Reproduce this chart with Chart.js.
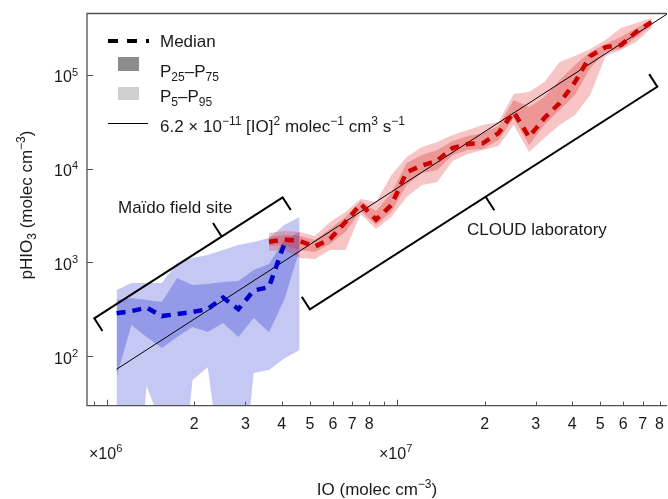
<!DOCTYPE html>
<html>
<head>
<meta charset="utf-8">
<script src="https://cdn.jsdelivr.net/npm/chart.js@4.4.0/dist/chart.umd.min.js"></script>
<style>
  html, body { margin: 0; padding: 0; background: #fff; }
  #wrap { width: 668px; height: 499px; }
</style>
</head>
<body>
<div id="wrap"><canvas id="chart" width="668" height="499"></canvas></div>
<script>
// Maido field site, IO bins (molec cm-3) and pHIO3 percentiles
const maidoIO = [1.08e6, 1.215e6, 1.37e6, 1.546e6, 1.746e6, 1.971e6, 2.225e6, 2.512e6, 2.836e6, 3.202e6, 3.615e6, 4.08e6, 4.61e6];
const maidoMedian = [286, 302, 329, 267, 281, 295, 317, 421, 317, 500, 545, 1567, null];
const maidoP75 = [396, 416, 396, 377, 680, 572, 587, 617, 631, 828, 959, 1730, 2104];
const maidoP25 = [60, 214, 160, 122, 160, 204, 180, 225, 160, 254, 180, 396, 1352];
const maidoP95 = [506, 601, 601, 601, 983, 1112, 1197, 1353, 1530, 1647, 1816, 2500, 3044];
const maidoP5 = [10, 0.7, 48, 18, 1.3, 55, 76, 4.5, 1.5, 66, 71, 94, 116];

// CLOUD laboratory
const cloudIO = [3.615e6, 4.08e6, 4.61e6, 5.2e6, 5.87e6, 6.63e6, 7.48e6, 8.45e6, 9.54e6, 1.077e7, 1.216e7, 1.373e7, 1.55e7,
  1.75e7, 1.976e7, 2.231e7, 2.518e7, 2.843e7, 3.21e7, 3.624e7, 4.092e7, 4.62e7, 5.215e7, 5.888e7, 6.648e7, 7.505e7];
const cloudMedian = [1659, 1751, 1688, 1474, 1773, 2692, 4188, 2862, 4088, 9196, 10790, 12200, 16590,
  18300, 18760, 23990, 40180, 21730, 34670, 50120, 83950, 159100, 198500, 208400, 286900, 366800];
const cloudP95 = [2054, 2158, 2105, 1908, 2692, 3443, 4737, 4400, 8500, 13300, 17000, 19220, 22830,
  25820, 29190, 31420, 62520, 65680, 83950, 137300, 159100, 188800, 235700, 316600, 357900, 404600];
const cloudP75 = [1862, 1956, 1908, 1730, 2266, 3044, 4510, 3528, 5490, 11470, 13970, 15790, 19700,
  22280, 23990, 28490, 53950, 45380, 58070, 88220, 127500, 175400, 213600, 253600, 316600, 385300];
const cloudP25 = [1493, 1530, 1352, 1288, 1568, 2105, 3528, 2500, 3443, 6683, 8973, 9661, 13970,
  15790, 16190, 20200, 34670, 17860, 29190, 42210, 60990, 118500, 175400, 188800, 253600, 332600];
const cloudP5 = [1320, 1352, 1112, 1085, 1352, 1352, 3273, 2266, 3044, 4976, 6683, 7190, 12050,
  14310, 15790, 17420, 29190, 15040, 21210, 29190, 37330, 60990, 159100, 184300, 224400, 316600];

// 6.2e-11 [IO]^2 line, end points
const fitIO = [1.08e6, 8.49e7];
const fitP = [72.3, 446900];

// axes
const xMin = 8.54e5, xMax = 8.49e7, yMin = 29.5, yMax = 4.53e5;
const xTickValues = [9e5, 1e6, 2e6, 3e6, 4e6, 5e6, 6e6, 7e6, 8e6, 9e6, 1e7, 2e7, 3e7, 4e7, 5e7, 6e7, 7e7, 8e7];
const xMajorValues = [1e6, 1e7];
const xLabelValues = [2e6, 3e6, 4e6, 5e6, 6e6, 7e6, 8e6, 2e7, 3e7, 4e7, 5e7, 6e7, 7e7, 8e7];
const xLabelText = ['2', '3', '4', '5', '6', '7', '8', '2', '3', '4', '5', '6', '7', '8'];
const yTickValues = [1e2, 1e3, 1e4, 1e5];
const yTickExp = ['2', '3', '4', '5'];

// brackets (data coordinates)
const maidoBracket = { from: [9.05e5, 252.6], to: [4.03e6, 4940], mid: 0.676 };
const cloudBracket = { from: [5.0e6, 315], to: [7.86e7, 74800], mid: 0.506 };

const FONT = '"Liberation Sans", Arial, Helvetica, sans-serif';
const INK = '#1a1a1a';

function pts(xs, ys) { return xs.map((v, i) => ({ x: v, y: ys[i] })); }

function rich(ctx, parts, x, y, size, align) {
  const small = Math.round(size * 0.68);
  let w = 0;
  parts.forEach(p => {
    ctx.font = (p[1] ? small : size) + 'px ' + FONT;
    w += ctx.measureText(p[0]).width;
  });
  let cx = align === 'center' ? x - w / 2 : (align === 'right' ? x - w : x);
  ctx.textAlign = 'left';
  ctx.textBaseline = 'alphabetic';
  parts.forEach(p => {
    ctx.font = (p[1] ? small : size) + 'px ' + FONT;
    const dy = p[1] === 'sup' ? -size * 0.42 : (p[1] === 'sub' ? size * 0.24 : 0);
    ctx.fillText(p[0], cx, y + dy);
    cx += ctx.measureText(p[0]).width;
  });
}

function drawBracket(ctx, xs, ys, b, endLen, midLen, endDir) {
  const x1 = xs.getPixelForValue(b.from[0]), y1 = ys.getPixelForValue(b.from[1]);
  const x2 = xs.getPixelForValue(b.to[0]), y2 = ys.getPixelForValue(b.to[1]);
  const len = Math.hypot(x2 - x1, y2 - y1);
  const ux = (x2 - x1) / len, uy = (y2 - y1) / len;
  const nx = -uy * endDir, ny = ux * endDir;
  ctx.beginPath();
  ctx.moveTo(x1 + nx * endLen, y1 + ny * endLen);
  ctx.lineTo(x1, y1);
  ctx.lineTo(x2, y2);
  ctx.lineTo(x2 + nx * endLen, y2 + ny * endLen);
  const mx = x1 + (x2 - x1) * b.mid, my = y1 + (y2 - y1) * b.mid;
  ctx.moveTo(mx, my);
  ctx.lineTo(mx - nx * midLen, my - ny * midLen);
  ctx.stroke();
}

const decor = {
  id: 'decor',
  afterDraw(chart) {
    const ctx = chart.ctx, a = chart.chartArea;
    const xs = chart.scales.x, ys = chart.scales.y;
    ctx.save();

    // frame
    ctx.strokeStyle = '#505050';
    ctx.lineWidth = 1.3;
    ctx.beginPath();
    ctx.moveTo(a.right, a.top);
    ctx.lineTo(a.left, a.top);
    ctx.lineTo(a.left, a.bottom);
    ctx.lineTo(a.right, a.bottom);
    ctx.stroke();

    // inward ticks
    ctx.lineWidth = 1;
    ctx.beginPath();
    xTickValues.forEach(v => {
      const px = Math.round(xs.getPixelForValue(v)) + 0.5;
      const l = xMajorValues.includes(v) ? 6 : 4;
      ctx.moveTo(px, a.bottom);
      ctx.lineTo(px, a.bottom - l);
    });
    yTickValues.forEach(v => {
      const py = Math.round(ys.getPixelForValue(v)) + 0.5;
      ctx.moveTo(a.left, py);
      ctx.lineTo(a.left + 6, py);
    });
    ctx.stroke();

    ctx.fillStyle = INK;
    // x tick labels
    xLabelValues.forEach((v, i) => {
      rich(ctx, [[xLabelText[i], '']], xs.getPixelForValue(v), 429, 16, 'center');
    });
    rich(ctx, [['\u00d710', ''], ['6', 'sup']], 89, 458.5, 16, 'left');
    rich(ctx, [['\u00d710', ''], ['7', 'sup']], 379, 459, 16, 'left');

    // y tick labels
    yTickValues.forEach((v, i) => {
      rich(ctx, [['10', ''], [yTickExp[i], 'sup']], 78, ys.getPixelForValue(v) + 7.5, 16, 'right');
    });

    // axis titles
    rich(ctx, [['IO (molec cm', ''], ['\u22123', 'sup'], [')', '']], 377, 495, 17, 'center');
    ctx.save();
    ctx.translate(32, 205);
    ctx.rotate(-Math.PI / 2);
    rich(ctx, [['pHIO', ''], ['3', 'sub'], [' (molec cm', ''], ['\u22123', 'sup'], [')', '']], 0, 0, 17, 'center');
    ctx.restore();

    // brackets
    ctx.strokeStyle = '#000';
    ctx.lineWidth = 2;
    ctx.lineJoin = 'miter';
    ctx.setLineDash([]);
    drawBracket(ctx, xs, ys, maidoBracket, 15, 16, 1);
    drawBracket(ctx, xs, ys, cloudBracket, 15, 16, -1);
    rich(ctx, [['Ma\u00efdo field site', '']], 118, 212.5, 17, 'left');
    rich(ctx, [['CLOUD laboratory', '']], 467, 235, 17, 'left');

    // legend
    ctx.strokeStyle = '#000';
    ctx.lineWidth = 4;
    ctx.setLineDash([10, 9]);
    ctx.beginPath();
    ctx.moveTo(108, 41);
    ctx.lineTo(149, 41);
    ctx.stroke();
    ctx.setLineDash([]);
    ctx.lineWidth = 1;
    ctx.beginPath();
    ctx.moveTo(108, 123.5);
    ctx.lineTo(148, 123.5);
    ctx.stroke();
    ctx.fillStyle = '#8c8c8c';
    ctx.fillRect(118, 57, 21, 14);
    ctx.fillStyle = '#cfcfcf';
    ctx.fillRect(118, 87, 21, 13);
    ctx.fillStyle = INK;
    rich(ctx, [['Median', '']], 160, 47, 17, 'left');
    rich(ctx, [['P', ''], ['25', 'sub'], ['\u2013P', ''], ['75', 'sub']], 160, 77, 17, 'left');
    rich(ctx, [['P', ''], ['5', 'sub'], ['\u2013P', ''], ['95', 'sub']], 160, 101.5, 17, 'left');
    rich(ctx, [['6.2 \u00d7 10', ''], ['\u221211', 'sup'], [' [IO]', ''], ['2', 'sup'], [' molec', ''], ['\u22121', 'sup'],
      [' cm', ''], ['3', 'sup'], [' s', ''], ['\u22121', 'sup']], 160, 132, 17, 'left');

    ctx.restore();
  }
};

const band = (data, fill, color, order) => ({
  data, fill, backgroundColor: color, borderWidth: 0, pointRadius: 0, showLine: true, order
});

new Chart(document.getElementById('chart'), {
  type: 'scatter',
  data: {
    datasets: [
      band(pts(maidoIO, maidoP95), 1, 'rgba(40,50,210,0.27)', 6),
      band(pts(maidoIO, maidoP5), false, 'transparent', 6),
      band(pts(maidoIO, maidoP75), 3, 'rgba(40,50,210,0.30)', 5),
      band(pts(maidoIO, maidoP25), false, 'transparent', 5),
      band(pts(cloudIO, cloudP95), 5, 'rgba(225,40,40,0.27)', 4),
      band(pts(cloudIO, cloudP5), false, 'transparent', 4),
      band(pts(cloudIO, cloudP75), 7, 'rgba(210,30,30,0.28)', 3),
      band(pts(cloudIO, cloudP25), false, 'transparent', 3),
      {
        data: pts(fitIO, fitP), showLine: true, pointRadius: 0,
        borderColor: '#000', borderWidth: 1, fill: false, order: 2
      },
      {
        data: pts(maidoIO, maidoMedian), showLine: true, pointRadius: 0,
        borderColor: 'rgb(0,0,200)', borderWidth: 4.5, borderDash: [9, 7], borderCapStyle: 'butt',
        fill: false, order: 1
      },
      {
        data: pts(cloudIO, cloudMedian), showLine: true, pointRadius: 0,
        borderColor: 'rgb(204,0,0)', borderWidth: 4.5, borderDash: [9, 7], borderCapStyle: 'butt',
        fill: false, order: 0
      }
    ]
  },
  options: {
    responsive: false,
    animation: false,
    devicePixelRatio: 1,
    layout: { padding: { left: 87, top: 13.5, right: 1, bottom: 93.3 } },
    plugins: { legend: { display: false }, tooltip: { enabled: false } },
    scales: {
      x: { type: 'logarithmic', min: xMin, max: xMax, display: false },
      y: { type: 'logarithmic', min: yMin, max: yMax, display: false }
    }
  },
  plugins: [decor]
});
</script>
</body>
</html>
